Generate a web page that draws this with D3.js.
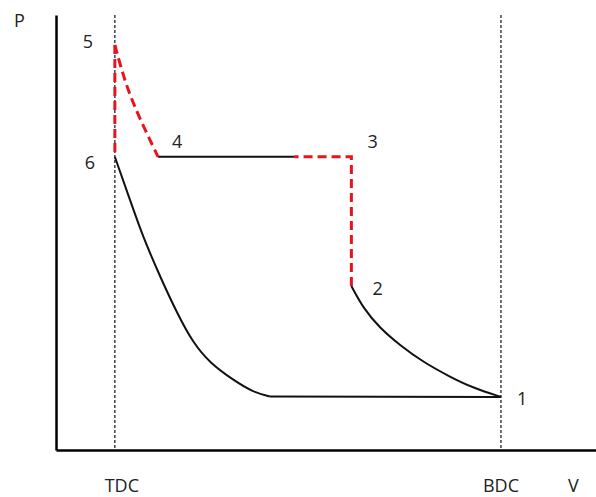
<!DOCTYPE html>
<html>
<head>
<meta charset="utf-8">
<script src="https://cdn.jsdelivr.net/npm/d3@7"></script>
<style>
  body { margin: 0; background: #fff; }
  text { font-family: "Open Sans", "Liberation Sans", sans-serif; fill: #222; }
</style>
</head>
<body>
<script>
// volume / pressure (arbitrary units, 0-100)
const tdcV = 10.9, bdcV = 82.4;

// 6 -> compression curve -> corner
const compV = [10.9, 13.7, 16.1, 19.3, 22.4, 25.4, 28.5, 32.8, 36.5, 39.6];
const compP = [67.4, 57.5, 49.0, 39.8, 31.5, 24.6, 20.0, 16.1, 13.3, 12.3];
// corner -> 1
const bottomV = [39.6, 82.4];
const bottomP = [12.3, 12.2];
// 2 -> 1
const expV = [54.7, 56.9, 60.0, 63.7, 68.0, 73.0, 77.2, 82.4];
const expP = [37.7, 32.6, 28.0, 24.1, 20.2, 16.8, 14.3, 12.2];
// 2 -> 3 -> break (red dashed)
const redRightV = [54.7, 54.7, 44.1];
const redRightP = [37.7, 67.4, 67.4];
// break -> 4 (black)
const topV = [44.1, 18.9];
const topP = [67.4, 67.4];
// 5 -> 4 (red dashed curve)
const redCurveV = [10.9, 11.9, 13.3, 15.6, 18.9];
const redCurveP = [93.1, 88.5, 82.8, 75.9, 67.4];
// 5 -> 6 (red dashed)
const redLeftV = [10.9, 10.9];
const redLeftP = [93.1, 67.4];

const pointNames = ["1", "2", "3", "4", "5", "6"];
const pointV = [82.4, 54.7, 54.7, 18.9, 10.9, 10.9];
const pointP = [12.2, 37.7, 67.4, 67.4, 93.1, 67.4];

const W = 596, H = 497;
const svg = d3.select("body").append("svg")
  .attr("width", W).attr("height", H);

const x = d3.scaleLinear().domain([0, 100]).range([56, 596]);
const y = d3.scaleLinear().domain([0, 100]).range([450, 15]);

const zip = (vs, ps) => vs.map((v, i) => [v, ps[i]]);
const line = d3.line().x(d => x(d[0])).y(d => y(d[1]));
const smooth = d3.line().x(d => x(d[0])).y(d => y(d[1])).curve(d3.curveBasis);

// TDC / BDC guide lines
[tdcV, bdcV].forEach(v => {
  svg.append("line")
    .attr("x1", x(v)).attr("x2", x(v))
    .attr("y1", y(100)).attr("y2", y(0))
    .attr("stroke", "#111").attr("stroke-width", 1.2)
    .attr("stroke-dasharray", "3,2");
});

// axes, no ticks
svg.append("g").attr("transform", `translate(0,${y(0)})`)
  .call(d3.axisBottom(x).tickValues([]).tickSizeOuter(0));
svg.append("g").attr("transform", `translate(${x(0)},0)`)
  .call(d3.axisLeft(y).tickValues([]).tickSizeOuter(0));
svg.selectAll(".domain").attr("stroke", "#000").attr("stroke-width", 2.5);

// black solid parts
const black = (pts, gen) => svg.append("path").datum(pts)
  .attr("d", gen).attr("fill", "none").attr("stroke", "#111").attr("stroke-width", 2);
black(zip(compV, compP), smooth);
black(zip(bottomV, bottomP), line);
black(zip(expV, expP), smooth);
black(zip(topV, topP), line);

// red dashed parts
const red = "#e8141c";
const dashed = (pts, gen) => svg.append("path").datum(pts)
  .attr("d", gen).attr("fill", "none").attr("stroke", red).attr("stroke-width", 3)
  .attr("stroke-dasharray", "9,5");
dashed(zip(redRightV, redRightP), line);
dashed(zip(redCurveV, redCurveP), smooth);
dashed(zip(redLeftV, redLeftP), line);

// point numbers
const labelOffset = [[16, 8], [21, 9], [16, -9], [14, -9], [-32, 3], [-30, 12]];
svg.selectAll("text.pt")
  .data(pointNames)
  .enter()
  .append("text")
  .attr("class", "pt")
  .attr("x", (d, i) => x(pointV[i]) + labelOffset[i][0])
  .attr("y", (d, i) => y(pointP[i]) + labelOffset[i][1])
  .attr("font-size", 18)
  .text(d => d);

// axis names
svg.append("text").attr("x", 14).attr("y", 27).attr("font-size", 18).text("P");
svg.append("text").attr("x", 568).attr("y", 492).attr("font-size", 18).text("V");
svg.append("text").attr("x", x(tdcV) + 7).attr("y", 492).attr("font-size", 18)
  .attr("text-anchor", "middle").text("TDC");
svg.append("text").attr("x", x(bdcV)).attr("y", 492).attr("font-size", 18)
  .attr("text-anchor", "middle").text("BDC");
</script>
</body>
</html>
